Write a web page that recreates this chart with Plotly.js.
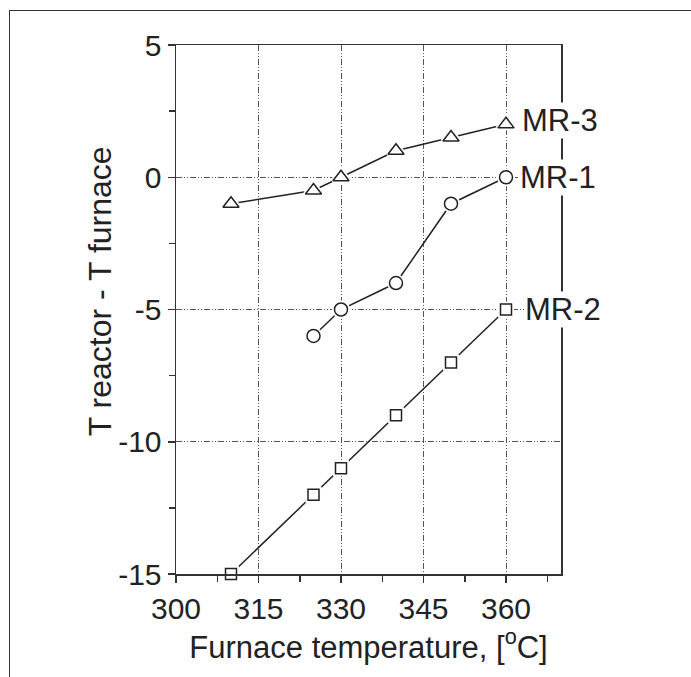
<!DOCTYPE html>
<html>
<head>
<meta charset="utf-8">
<script src="https://cdn.plot.ly/plotly-3.0.1.min.js"></script>
<style>
  html, body { margin: 0; padding: 0; background: #fff; }
  #wrap { position: relative; width: 691px; height: 677px; overflow: hidden; }
  #frame { position: absolute; left: 9px; top: 10px; width: 700px; height: 700px;
           border-left: 1.5px solid #333; border-top: 1.5px solid #333; pointer-events: none; }
  #chart { position: absolute; left: 0; top: 0; width: 691px; height: 677px; }
</style>
</head>
<body>
<div id="wrap">
  <div id="chart"></div>
  <div id="frame"></div>
</div>
<script>
// Data
const seriesNames = ["MR-3", "MR-1", "MR-2"];
const mr3X = [310, 325, 330, 340, 350, 360];
const mr3Y = [-1, -0.5, 0, 1, 1.5, 2];
const mr1X = [325, 330, 340, 350, 360];
const mr1Y = [-6, -5, -4, -1, 0];
const mr2X = [310, 325, 330, 340, 350, 360];
const mr2Y = [-15, -12, -11, -9, -7, -5];
const xTickVals = [300, 315, 330, 345, 360];
const yTickVals = [-15, -10, -5, 0, 5];

const ink = "#222";
const font = "Liberation Sans, Arial, Helvetica, sans-serif";

function series(x, y, symbol, size, name) {
  return [
    { // connecting line
      x: x, y: y, name: name, type: "scatter", mode: "lines",
      line: { color: ink, width: 1.5 }, cliponaxis: false, showlegend: false, hoverinfo: "skip"
    },
    { // white halo so the line stops short of each marker
      x: x, y: y, name: name, type: "scatter", mode: "markers",
      marker: { symbol: symbol, size: size, color: "#fff", line: { color: "#fff", width: 5 } },
      cliponaxis: false, showlegend: false, hoverinfo: "skip"
    },
    { // open marker
      x: x, y: y, name: name, type: "scatter", mode: "markers",
      marker: { symbol: symbol, size: size, color: "#fff", line: { color: ink, width: 1.5 } },
      cliponaxis: false, showlegend: false
    }
  ];
}

const data = [].concat(
  series(mr3X, mr3Y, "triangle-up", 14, seriesNames[0]),
  series(mr1X, mr1Y, "circle", 13, seriesNames[1]),
  series(mr2X, mr2Y, "square", 11, seriesNames[2])
);

const labelSeries = [[mr3X, mr3Y], [mr1X, mr1Y], [mr2X, mr2Y]];
const labelShiftX = [15, 13, 18];
const labelShiftY = [4, 0, 0];
const annotations = labelSeries.map((s, i) => ({
  x: s[0][s[0].length - 1], y: s[1][s[1].length - 1],
  xref: "x", yref: "y", text: seriesNames[i], showarrow: false,
  xanchor: "left", yanchor: "middle", xshift: labelShiftX[i], yshift: labelShiftY[i],
  bgcolor: "#fff", borderpad: 0,
  font: { family: font, size: 31, color: ink }
}));
annotations.push({
  xref: "paper", yref: "paper", x: -0.198, y: 0.534,
  text: "T reactor - T furnace", textangle: -90, showarrow: false,
  xanchor: "center", yanchor: "middle",
  font: { family: font, size: 32, color: ink }
});

const layout = {
  width: 691, height: 677,
  margin: { l: 176, r: 130, t: 45, b: 103 },
  paper_bgcolor: "rgba(0,0,0,0)", plot_bgcolor: "#fff",
  font: { family: font, color: ink },
  xaxis: {
    range: [300, 370], tickvals: xTickVals, ticktext: xTickVals.map(String),
    ticks: "outside", ticklen: 7, tickwidth: 1.5, tickcolor: "#333",
    minor: { dtick: 7.5, tick0: 300, ticks: "outside", ticklen: 6, tickwidth: 1.5, tickcolor: "#333", showgrid: false },
    showline: true, linecolor: "#333", linewidth: 1.5, mirror: true,
    showgrid: true, gridcolor: "#555", gridwidth: 1, griddash: "6px,2px,1px,2px,1px,2px",
    zeroline: false,
    tickfont: { family: font, size: 30, color: ink },
    title: { text: "Furnace temperature, [<sup>o</sup>C]", font: { family: font, size: 31, color: ink }, standoff: 10 }
  },
  yaxis: {
    range: [-15, 5], tickvals: yTickVals, ticktext: yTickVals.map(String),
    ticks: "outside", ticklen: 7, tickwidth: 1.5, tickcolor: "#333",
    minor: { dtick: 2.5, tick0: -15, ticks: "outside", ticklen: 6, tickwidth: 1.5, tickcolor: "#333", showgrid: false },
    showline: true, linecolor: "#333", linewidth: 1.5, mirror: true,
    showgrid: true, gridcolor: "#555", gridwidth: 1, griddash: "6px,2px,1px,2px,1px,2px",
    zeroline: false,
    tickfont: { family: font, size: 30, color: ink }
  },
  annotations: annotations
};

Plotly.newPlot("chart", data, layout, { displayModeBar: false, staticPlot: true });
</script>
</body>
</html>
